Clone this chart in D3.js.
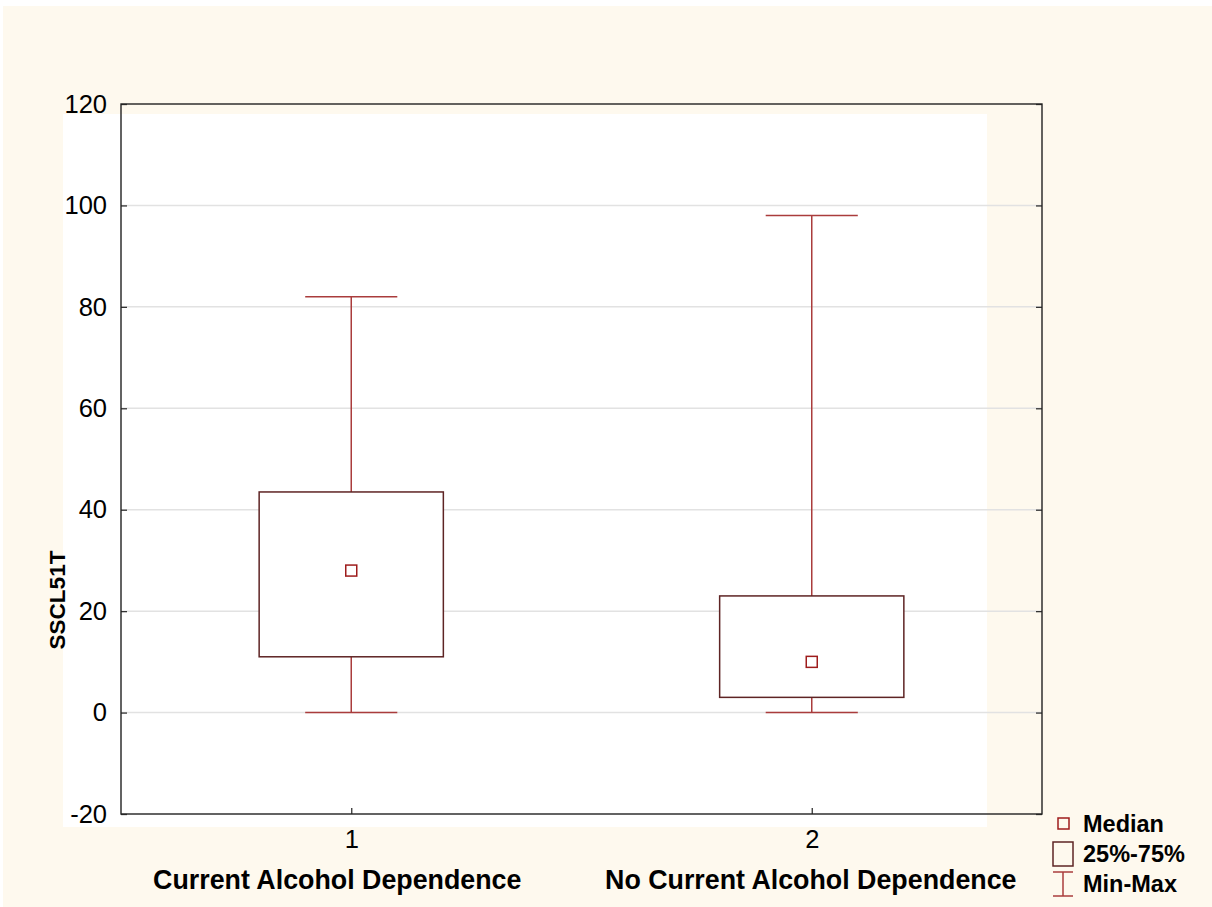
<!DOCTYPE html>
<html>
<head>
<meta charset="utf-8">
<script src="https://cdn.jsdelivr.net/npm/d3@7/dist/d3.min.js"></script>
<style>
  html, body { margin: 0; padding: 0; background: #ffffff; }
  svg { display: block; font-family: Arial, "Liberation Sans", sans-serif; }
</style>
</head>
<body>
<svg id="chart" width="1212" height="907"></svg>
<script>
// Box plot of SSCL51T by group
const groups = [1, 2];
const groupNames = ["Current Alcohol Dependence", "No Current Alcohol Dependence"];
const groupTickLabels = ["1", "2"];
const medians = [28, 10];
const q1 = [11, 3];
const q3 = [43.5, 23];
const mins = [0, 0];
const maxs = [82, 98];
const yTicks = [-20, 0, 20, 40, 60, 80, 100, 120];
const legendLabels = ["Median", "25%-75%", "Min-Max"];

const boxColor = "#5e2424";
const whiskerColor = "#aa3c3c";
const medianColor = "#9e1c1c";

const svg = d3.select("#chart");

// page background and inner panel
svg.append("rect").attr("x", 3).attr("y", 6).attr("width", 1209).attr("height", 901).attr("fill", "#fef9ee");
svg.append("rect").attr("x", 63).attr("y", 114).attr("width", 924).attr("height", 713).attr("fill", "#ffffff");

const plot = { left: 121, right: 1042, top: 104, bottom: 814 };

const x = d3.scaleLinear().domain([0.5, 2.5]).range([plot.left, plot.right]);
const y = d3.scaleLinear().domain([-20, 120]).range([plot.bottom, plot.top]);

// horizontal gridlines
svg.append("g").selectAll("line")
  .data(yTicks.filter(t => t > -20 && t < 120))
  .join("line")
  .attr("x1", plot.left).attr("x2", plot.right)
  .attr("y1", d => y(d)).attr("y2", d => y(d))
  .attr("stroke", "#e2e2e2").attr("stroke-width", 1.5);

// left axis with inward ticks
const yAxis = svg.append("g")
  .attr("transform", `translate(${plot.left},0)`)
  .call(d3.axisLeft(y).tickValues(yTicks).tickSizeInner(-6).tickSizeOuter(0).tickPadding(14)
    .tickFormat(d => String(d)));
yAxis.select(".domain").remove();
yAxis.selectAll(".tick line").attr("stroke", "#333").attr("stroke-width", 1.3);
yAxis.selectAll(".tick text").attr("font-size", 25.5).attr("fill", "#000")
  .attr("font-family", "Arial, 'Liberation Sans', sans-serif");

// right side ticks
const yAxisR = svg.append("g")
  .attr("transform", `translate(${plot.right},0)`)
  .call(d3.axisRight(y).tickValues(yTicks).tickSizeInner(-6).tickSizeOuter(0).tickFormat(""));
yAxisR.select(".domain").remove();
yAxisR.selectAll(".tick line").attr("stroke", "#333").attr("stroke-width", 1.3);

// bottom axis
const xAxis = svg.append("g")
  .attr("transform", `translate(0,${plot.bottom})`)
  .call(d3.axisBottom(x).tickValues(groups).tickSizeInner(-6).tickSizeOuter(0).tickPadding(16)
    .tickFormat((d, i) => groupTickLabels[i]));
xAxis.select(".domain").remove();
xAxis.selectAll(".tick line").attr("stroke", "#333").attr("stroke-width", 1.3);
xAxis.selectAll(".tick text").attr("font-size", 25.5).attr("fill", "#000")
  .attr("font-family", "Arial, 'Liberation Sans', sans-serif");

// frame
svg.append("rect")
  .attr("x", plot.left).attr("y", plot.top)
  .attr("width", plot.right - plot.left).attr("height", plot.bottom - plot.top)
  .attr("fill", "none").attr("stroke", "#222").attr("stroke-width", 1.4);

// boxes
const boxW = 0.4, capW = 0.2;
const g = svg.append("g");
groups.forEach((c, i) => {
  // whiskers
  g.append("line").attr("x1", x(c)).attr("x2", x(c)).attr("y1", y(maxs[i])).attr("y2", y(q3[i]))
    .attr("stroke", whiskerColor).attr("stroke-width", 1.5);
  g.append("line").attr("x1", x(c)).attr("x2", x(c)).attr("y1", y(q1[i])).attr("y2", y(mins[i]))
    .attr("stroke", whiskerColor).attr("stroke-width", 1.5);
  g.append("line").attr("x1", x(c - capW / 2)).attr("x2", x(c + capW / 2)).attr("y1", y(maxs[i])).attr("y2", y(maxs[i]))
    .attr("stroke", whiskerColor).attr("stroke-width", 1.5);
  g.append("line").attr("x1", x(c - capW / 2)).attr("x2", x(c + capW / 2)).attr("y1", y(mins[i])).attr("y2", y(mins[i]))
    .attr("stroke", whiskerColor).attr("stroke-width", 1.5);
  // interquartile box
  g.append("rect")
    .attr("x", x(c - boxW / 2)).attr("y", y(q3[i]))
    .attr("width", x(c + boxW / 2) - x(c - boxW / 2)).attr("height", y(q1[i]) - y(q3[i]))
    .attr("fill", "#ffffff").attr("stroke", boxColor).attr("stroke-width", 1.5);
  // median marker
  g.append("rect")
    .attr("x", x(c) - 5.5).attr("y", y(medians[i]) - 5.5)
    .attr("width", 11).attr("height", 11)
    .attr("fill", "#ffffff").attr("stroke", medianColor).attr("stroke-width", 1.5);
});

// group titles (first one sits slightly left of its tick)
const titleShift = [-14, -1];
svg.append("g").selectAll("text")
  .data(groups)
  .join("text")
  .attr("x", (d, i) => x(d) + titleShift[i]).attr("y", 889)
  .attr("text-anchor", "middle")
  .attr("font-size", 26.8).attr("font-weight", "bold").attr("fill", "#000")
  .text((d, i) => groupNames[i]);

// y title
svg.append("text")
  .attr("transform", "translate(65,600) rotate(-90)")
  .attr("text-anchor", "middle")
  .attr("font-size", 22.5).attr("font-weight", "bold").attr("fill", "#000")
  .text("SSCL51T");

// legend
const lg = svg.append("g");
lg.append("rect").attr("x", 1058).attr("y", 818).attr("width", 11).attr("height", 11)
  .attr("fill", "none").attr("stroke", medianColor).attr("stroke-width", 1.5);
lg.append("rect").attr("x", 1053).attr("y", 842).attr("width", 20).attr("height", 24)
  .attr("fill", "none").attr("stroke", boxColor).attr("stroke-width", 1.5);
lg.append("line").attr("x1", 1053).attr("x2", 1073).attr("y1", 872).attr("y2", 872).attr("stroke", whiskerColor).attr("stroke-width", 1.5);
lg.append("line").attr("x1", 1053).attr("x2", 1073).attr("y1", 896).attr("y2", 896).attr("stroke", whiskerColor).attr("stroke-width", 1.5);
lg.append("line").attr("x1", 1063).attr("x2", 1063).attr("y1", 872).attr("y2", 896).attr("stroke", whiskerColor).attr("stroke-width", 1.5);
lg.selectAll("text")
  .data(legendLabels)
  .join("text")
  .attr("x", 1083).attr("y", (d, i) => 832 + i * 30)
  .attr("font-size", 23.5).attr("font-weight", "bold").attr("fill", "#000")
  .text(d => d);
</script>
</body>
</html>
